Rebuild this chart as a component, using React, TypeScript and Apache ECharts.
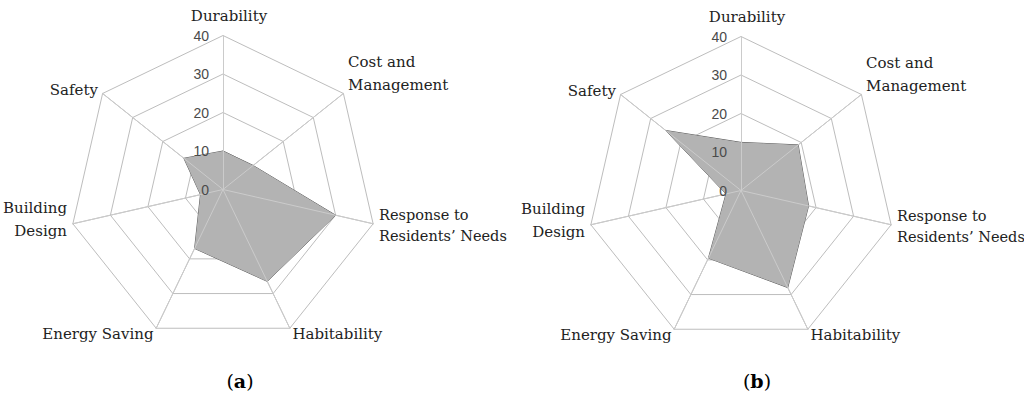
import React, { useEffect, useRef } from 'react';
import * as echarts from 'echarts';

// Axes in the reference's clockwise order, starting at the top
const axisNames = [
  'Durability',
  'Cost and\nManagement',
  'Response to\nResidents\u2019 Needs',
  'Habitability',
  'Energy Saving',
  'Building\nDesign',
  'Safety',
];
const axisMin = 0;
const axisMax = 40;
const tickStep = 10;
const tickLabels = ['0', '10', '20', '30', '40'];

// Panel (a) and panel (b) scores, same order as axisNames
const scoresA = [10, 10, 30, 26.5, 17, 6, 13];
const scoresB = [12.5, 19, 18, 28, 19.5, 4, 25];
const panelLetters = ['a', 'b'];

// ECharts lays radar indicators counter-clockwise: keep first, reverse the rest
const ccw = <T,>(arr: T[]): T[] => [arr[0], ...arr.slice(1).reverse()];

const centers: [number, number][] = [
  [223, 189.5],
  [741, 190.5],
];
const R = 154;
const serif = 'DejaVu Serif';

export default function App() {
  const ref = useRef<HTMLDivElement>(null);
  useEffect(() => {
    if (!ref.current) return;
    const chart = echarts.init(ref.current, undefined, { renderer: 'svg' });

    const wrap = (name: string, style: string) => name.split('\n').map((s) => `{${style}|${s}}`).join('\n');
    const nameFormatter = (name: string) => {
      if (name.startsWith('Durability')) return wrap(name, 'top');
      if (name.startsWith('Cost')) return wrap(name, 'n') + '\n{sp| }';
      if (name.startsWith('Building')) return wrap(name, 'n') + '\n{sp2| }';
      if (name.startsWith('Response')) return wrap(name, 'r');
      return wrap(name, 'n');
    };

    const indicator = ccw(axisNames).map((n) => ({ name: n, min: axisMin, max: axisMax }));

    const baseRadar = (c: [number, number]) => ({
      center: c,
      radius: R,
      startAngle: 90,
      shape: 'polygon',
      splitNumber: (axisMax - axisMin) / tickStep,
      indicator,
      nameGap: 6,
      axisName: {
        color: '#222',
        fontFamily: serif,
        fontSize: 15,
        formatter: nameFormatter,
        rich: {
          n: { fontFamily: serif, fontSize: 15, color: '#222', lineHeight: 23 },
          top: { fontFamily: serif, fontSize: 15, color: '#222', lineHeight: 20, padding: [0, 0, 7, 12] },
          r: { fontFamily: serif, fontSize: 14.5, color: '#222', lineHeight: 21 },
          sp: { fontSize: 1, lineHeight: 33 },
          sp2: { fontSize: 1, lineHeight: 12 },
        },
      },
      splitLine: { lineStyle: { color: '#bdbdbd', width: 1 } },
      splitArea: { show: false },
      axisLine: { lineStyle: { color: '#bdbdbd', width: 1 } },
      axisTick: { show: false },
      axisLabel: { show: false },
      z: 0,
    });
    const overlayRadar = (c: [number, number]) => ({
      center: c,
      radius: R,
      startAngle: 90,
      shape: 'polygon',
      splitNumber: (axisMax - axisMin) / tickStep,
      indicator: indicator.map((d) => ({ ...d, name: '' })),
      axisName: { show: false },
      splitLine: { show: false },
      splitArea: { show: false },
      axisLine: { lineStyle: { color: '#cbcbcb', width: 1 } },
      axisTick: { show: false },
      axisLabel: { show: false },
      z: 5,
    });

    const seriesFor = (vals: number[], idx: number) => ({
      type: 'radar',
      radarIndex: idx,
      symbol: 'none',
      z: 3,
      data: [{ value: ccw(vals) }],
      lineStyle: { color: '#5e5e5e', width: 1 },
      areaStyle: { color: '#b3b3b3', opacity: 1 },
      silent: true,
    });

    const panelLabel = (letter: string, cx: number) => ({
      type: 'text',
      x: cx,
      y: 381,
      style: {
        text: `{p|(}{b|${letter}}{p|)}`,
        align: 'center',
        verticalAlign: 'middle',
        rich: {
          p: { fontFamily: serif, fontSize: 19, color: '#111' },
          b: { fontFamily: serif, fontSize: 19, fontWeight: 'bold', color: '#111' },
        },
      },
    });

    chart.setOption({
      animation: false,
      backgroundColor: '#ffffff',
      radar: [baseRadar(centers[0]), baseRadar(centers[1]), overlayRadar(centers[0]), overlayRadar(centers[1])],
      polar: centers.map((c) => ({ center: c, radius: R })),
      angleAxis: centers.map((_, i) => ({ polarIndex: i, type: 'value', startAngle: 90, min: 0, max: 360, show: false })),
      radiusAxis: centers.map((_, i) => ({
        polarIndex: i,
        type: 'value',
        min: axisMin,
        max: axisMax,
        interval: tickStep,
        z: 6,
        axisLine: { show: false },
        axisTick: { show: false },
        splitLine: { show: false },
        axisLabel: {
          color: '#4a4a4a',
          fontSize: 14,
          fontFamily: 'Liberation Sans',
          margin: 14,
          formatter: (v: number) => tickLabels[Math.round((v - axisMin) / tickStep)] ?? String(v),
        },
      })),
      series: [seriesFor(scoresA, 0), seriesFor(scoresB, 1)],
      graphic: panelLetters.map((l, i) => panelLabel(l, [240, 757][i])),
    });

    return () => chart.dispose();
  }, []);

  return <div ref={ref} style={{ position: 'fixed', left: 0, top: 0, width: 1024, height: 399 }} />;
}
